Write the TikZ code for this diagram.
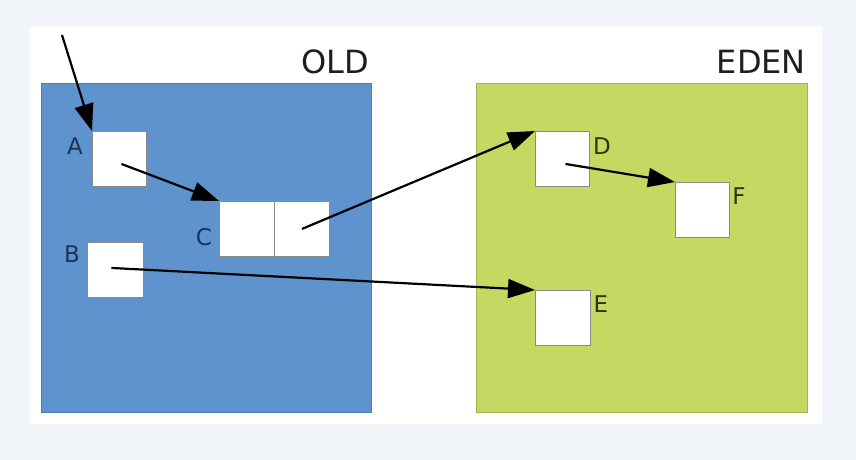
\documentclass[tikz,border=0pt]{standalone}
\usepackage{fontspec}
\setmainfont{DejaVu Sans}
\usetikzlibrary{arrows.meta}
\definecolor{bgout}{HTML}{F2F6FB}
\definecolor{oldfill}{HTML}{5E93CD}
\definecolor{olddraw}{HTML}{4F80B5}
\definecolor{edenfill}{HTML}{C6D862}
\definecolor{edendraw}{HTML}{A3B356}
\definecolor{oldtext}{HTML}{1C3558}
\definecolor{edentext}{HTML}{2C3612}
\definecolor{celldraw}{HTML}{8A8A8A}
\definecolor{titletext}{HTML}{1E1E1E}
\tikzset{
  cell/.style={draw=celldraw, line width=0.9pt, fill=white, inner sep=0pt,
    minimum width=54pt, minimum height=55pt, anchor=north west},
  lbl/.style={font=\fontsize{23}{23}\selectfont, inner sep=0pt},
  title/.style={font=\fontsize{32}{32}\selectfont, text=titletext, inner sep=0pt, anchor=base east},
  ref/.style={line width=2.2pt, draw=black, -{Triangle[length=27pt,width=19pt]}},
  region/.style={line width=1pt, inner sep=0pt, anchor=north west}
}
\begin{document}
\begin{tikzpicture}[x=1pt,y=-1pt]
\fill[bgout] (0,0) rectangle (856,460);
\useasboundingbox (0,0) rectangle (856,460);
\fill[white] (30,26) rectangle (822,424);
% regions
\node[region, draw=olddraw, fill=oldfill, minimum width=330pt, minimum height=329pt] (OLD) at (41,83) {};
\node[region, draw=edendraw, fill=edenfill, minimum width=331pt, minimum height=329pt] (EDEN) at (476,83) {};
\node[title] (oldt) at (369,74) {OLD};
\node[title] (edent) at (806,74) {EDEN};
% cells
\node[cell] (A) at (92,131) {};
\node[cell, minimum width=55pt] (C1) at (219,201) {};
\node[cell, minimum width=55pt] (C2) at (274,201) {};
\node[cell, minimum width=56pt] (B) at (87,242) {};
\node[cell] (D) at (535,131) {};
\node[cell] (F) at (675,182) {};
\node[cell, minimum width=55pt] (E) at (535,290) {};
% labels
\node[lbl, text=oldtext] (la) at (75,146) {A};
\node[lbl, text=oldtext] (lb) at (72,254) {B};
\node[lbl, text=oldtext] (lc) at (204,237) {C};
\node[lbl, text=edentext] (ld) at (602,146) {D};
\node[lbl, text=edentext] (le) at (601,304) {E};
\node[lbl, text=edentext] (lf) at (739,196) {F};
% references
\coordinate (root) at (62,35);
\draw[ref] (root) -- (A.north west);
\draw[ref] ([shift={(2,5)}]A.center) -- (C1.north west);
\draw[ref] (C2.center) -- (D.north west);
\draw[ref] ([shift={(3,5)}]D.center) -- (F.north west);
\draw[ref] ([shift={(-4,-2)}]B.center) -- (E.north west);
\end{tikzpicture}
\end{document}
